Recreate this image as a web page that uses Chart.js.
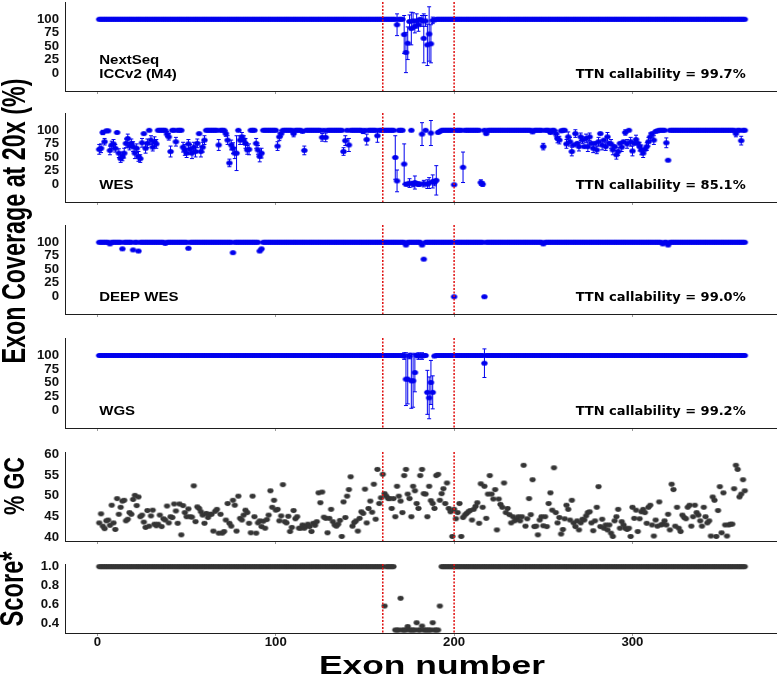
<!DOCTYPE html>
<html>
<head>
<meta charset="utf-8">
<script src="https://cdn.jsdelivr.net/npm/chart.js@4.4.1/dist/chart.umd.min.js"></script>
<style>
  body { margin: 0; background: #fff; }
  #wrap { position: relative; width: 780px; height: 677px; overflow: hidden; }
  canvas { position: absolute; left: 0; }
  .title { position: absolute; white-space: nowrap; line-height: 1; color: #000; font-weight: bold; font-family: 'Liberation Sans', Arial, sans-serif; }
</style>
</head>
<body>
<div id="wrap">
  <canvas id="cNext" width="780" height="111" style="top:-10px"></canvas>
  <canvas id="cWes" width="780" height="111" style="top:101px"></canvas>
  <canvas id="cDeep" width="780" height="111" style="top:213px"></canvas>
  <canvas id="cWgs" width="780" height="112" style="top:326px"></canvas>
  <canvas id="cGc" width="780" height="111" style="top:440px"></canvas>
  <canvas id="cScore" width="780" height="101" style="top:552px"></canvas>
  <div class="title" style="left:14px;top:221px;font-size:23.3px;transform:translate(-50%,-50%) rotate(-90deg) scaleY(1.45)">Exon Coverage at 20x (%)</div>
  <div class="title" style="left:14px;top:486px;font-size:21.7px;transform:translate(-50%,-50%) rotate(-90deg) scaleY(1.38)">% GC</div>
  <div class="title" style="left:13px;top:589px;font-size:23.7px;transform:translate(-50%,-50%) rotate(-90deg) scaleY(1.38)">Score*</div>
  <div class="title" style="left:432px;top:652px;font-size:26px;transform:translateX(-50%) scaleX(1.36)">Exon number</div>
</div>
<script>
// exon-level values (index 0 = exon 1)
const exonTicks = [0, 100, 200, 300];
const coverageTicks = [0, 25, 50, 75, 100];
const gcTicks = [40, 45, 50, 55, 60];
const scoreTicks = [0.4, 0.6, 0.8, 1.0];
const boundaryExons = [160, 200];
const callability = ['99.7%', '85.1%', '99.0%', '99.2%'];

const nextseq = [
  100,100,100,100,100,100,100,100,100,100,100,100,100,100,100,100,100,100,100,100,
  100,100,100,100,100,100,100,100,100,100,100,100,100,100,100,100,100,100,100,100,
  100,100,100,100,100,100,100,100,100,100,100,100,100,100,100,100,100,100,100,100,
  100,100,100,100,100,100,100,100,100,100,100,100,100,100,100,100,100,100,100,100,
  100,100,100,100,100,100,100,100,100,100,100,100,100,100,100,100,100,100,100,100,
  100,100,100,100,100,100,100,100,100,100,100,100,100,100,100,100,100,100,100,100,
  100,100,100,100,100,100,100,100,100,100,100,100,100,100,100,100,100,100,100,100,
  100,100,100,100,100,100,100,100,100,100,100,100,100,100,100,100,100,100,100,100,
  100,100,100,100,100,100,100,90,100,100,100,72,39,56,96,83,97,87,97,90,
  100,97,65,97,53,73,55,98,99,100,100,100,100,100,100,100,100,100,100,100,
  100,100,100,100,100,100,100,100,100,100,100,100,100,100,100,100,100,100,100,100,
  100,100,100,100,100,100,100,100,100,100,100,100,100,100,100,100,100,100,100,100,
  100,100,100,100,100,100,100,100,100,100,100,100,100,100,100,100,100,100,100,100,
  100,100,100,100,100,100,100,100,100,100,100,100,100,100,100,100,100,100,100,100,
  100,100,100,100,100,100,100,100,100,100,100,100,100,100,100,100,100,100,100,100,
  100,100,100,100,100,100,100,100,100,100,100,100,100,100,100,100,100,100,100,100,
  100,100,100,100,100,100,100,100,100,100,100,100,100,100,100,100,100,100,100,100,
  100,100,100,100,100,100,100,100,100,100,100,100,100,100,100,100,100,100,100,100,
  100,100,100
];
const nextseqErrorBars = [[168,20],[172,35],[173,37],[174,30],[175,12],[176,30],[177,15],[178,12],
  [179,13],[180,12],[182,10],[183,45],[184,10],[185,38],[186,50],[187,35],[188,6]];

const wes = [
  65,67,96,79,99,99,63,73,75,67,96,58,48,52,58,76,85,71,76,70,
  58,67,52,48,77,94,67,76,100,82,69,79,75,100,100,100,100,100,93,88,
  61,100,100,79,100,100,100,69,64,58,75,65,58,69,61,76,94,61,69,82,
  100,100,100,100,100,100,100,73,100,100,100,94,82,40,73,67,58,58,100,82,
  88,82,76,64,65,100,100,100,76,64,52,58,100,100,100,100,100,100,100,100,
  71,88,94,100,100,100,100,100,100,94,100,100,100,100,98,63,100,100,100,100,
  100,100,100,100,100,87,100,87,100,100,100,100,100,100,100,100,100,61,81,100,
  73,100,100,100,100,100,100,100,98,100,83,100,100,100,100,100,90,100,100,100,
  100,100,100,100,100,100,50,7,100,100,100,38,1,1,3,100,1,4,2,1,
  1,93,2,100,1,3,95,6,4,8,96,98,100,100,100,100,100,100,100,0,
  100,100,100,100,32,100,100,100,100,100,100,100,100,100,4,1,100,94,100,100,
  100,100,100,100,100,100,100,100,100,100,100,100,100,100,100,100,100,100,100,100,
  100,100,100,97,100,100,100,100,100,70,100,100,100,96,100,100,94,85,82,99,
  100,100,75,88,79,61,73,94,76,70,88,82,70,85,70,88,76,67,76,64,
  79,94,73,82,70,88,76,75,64,70,55,61,76,69,79,96,75,100,79,62,
  76,83,76,70,64,58,65,70,79,88,94,82,98,99,100,100,100,100,77,45,
  100,100,100,100,100,100,100,100,100,100,100,100,100,100,100,100,100,100,100,100,
  100,100,100,100,100,100,100,100,100,100,100,100,100,100,100,100,100,94,100,100,
  81,100,100
];
const wesErrorBars = [[1,9],[2,8],[3,4],[4,6],[7,8],[8,7],[9,8],[10,7],[12,8],[13,7],[14,8],[15,9],
  [16,8],[17,8],[18,7],[19,8],[20,9],[21,10],[22,8],[23,9],[24,7],[25,8],[27,9],[28,8],[30,8],[31,7],
  [32,9],[33,8],[39,5],[40,6],[41,10],[44,8],[48,9],[49,10],[50,8],[51,8],[52,9],[53,10],[54,9],
  [55,10],[56,8],[58,10],[59,9],[60,8],[68,10],[72,5],[73,8],[74,7],[75,9],[76,10],[77,10],[78,32],
  [80,8],[81,8],[82,8],[83,9],[84,8],[85,10],[89,9],[90,8],[91,10],[92,9],[101,8],[102,7],[103,6],
  [110,6],[116,8],[126,7],[128,8],[138,7],[139,9],[141,12],[149,4],[151,10],[157,12],[167,40],
  [168,20],[172,37],[173,3],[175,8],[177,5],[178,12],[180,4],[182,21],[183,6],[185,8],[186,10],
  [187,23],[188,12],[189,6],[190,27],[205,28],[215,5],[216,4],[250,6],[257,6],[258,8],[259,7],
  [263,8],[264,9],[265,8],[266,8],[268,7],[270,8],[271,7],[272,6],[274,8],[275,9],[276,7],[278,8],
  [280,7],[281,8],[283,9],[285,7],[286,8],[288,8],[289,9],[291,8],[292,7],[294,8],[296,5],[297,8],
  [299,8],[300,9],[302,8],[304,8],[305,9],[306,8],[308,7],[309,8],[310,7],[312,8],[319,9],[358,6],[361,8]];

const deepWes = [
  100,100,100,100,100,100,97,100,100,100,100,100,100,88,100,100,100,100,100,86,
  100,100,84,100,100,100,100,100,100,100,100,100,100,100,100,100,100,98,100,100,
  100,100,100,100,100,100,100,100,100,100,89,100,100,100,100,100,100,100,100,100,
  100,100,100,100,100,100,100,100,100,100,100,100,100,100,100,81,100,100,100,100,
  100,100,100,100,100,100,100,100,100,100,84,88,100,100,100,100,100,100,100,100,
  100,100,100,100,100,100,100,100,100,100,100,100,100,100,100,100,100,100,100,100,
  100,100,100,100,100,100,100,100,100,100,100,100,100,100,100,100,100,100,100,100,
  100,100,100,100,100,100,100,100,100,100,100,100,100,100,100,100,100,100,100,100,
  100,100,100,100,100,100,100,100,100,100,100,100,95,100,100,100,100,100,100,100,
  100,95,69,100,100,100,100,100,100,100,100,100,100,100,100,100,100,100,100,0,
  100,100,100,100,100,100,100,100,100,100,100,100,100,100,100,100,0,100,100,100,
  100,100,100,100,100,100,100,100,100,100,100,100,100,100,100,100,100,100,100,100,
  100,100,100,100,100,100,100,100,100,97,100,100,100,100,100,100,100,100,100,100,
  100,100,100,100,100,100,100,100,100,100,100,100,100,100,100,100,100,100,100,100,
  100,100,100,100,100,100,100,100,100,100,100,100,100,100,100,100,100,100,100,100,
  100,100,100,100,100,100,100,100,100,100,100,100,100,100,100,100,97,100,100,95,
  100,100,100,100,100,100,100,100,100,100,100,100,100,100,100,100,100,100,100,100,
  100,100,100,100,100,100,100,100,100,100,100,100,100,100,100,100,100,100,100,100,
  100,100,100
];

const wgs = [
  100,100,100,100,100,100,100,100,100,100,100,100,100,100,100,100,100,100,100,100,
  100,100,100,100,100,100,100,100,100,100,100,100,100,100,100,100,100,100,100,100,
  100,100,100,100,100,100,100,100,100,100,100,100,100,100,100,100,100,100,100,100,
  100,100,100,100,100,100,100,100,100,100,100,100,100,100,100,100,100,100,100,100,
  100,100,100,100,100,100,100,100,100,100,100,100,100,100,100,100,100,100,100,100,
  100,100,100,100,100,100,100,100,100,100,100,100,100,100,100,100,100,100,100,100,
  100,100,100,100,100,100,100,100,100,100,100,100,100,100,100,100,100,100,100,100,
  100,100,100,100,100,100,100,100,100,100,100,100,100,100,100,100,100,100,100,100,
  100,100,100,100,100,100,100,100,100,100,100,99,57,57,99,54,54,69,100,99,
  100,99,100,100,33,23,51,33,99,100,100,100,100,100,100,100,100,100,100,100,
  100,100,100,100,100,100,100,100,100,100,100,100,100,100,100,100,86,100,100,100,
  100,100,100,100,100,100,100,100,100,100,100,100,100,100,100,100,100,100,100,100,
  100,100,100,100,100,100,100,100,100,100,100,100,100,100,100,100,100,100,100,100,
  100,100,100,100,100,100,100,100,100,100,100,100,100,100,100,100,100,100,100,100,
  100,100,100,100,100,100,100,100,100,100,100,100,100,100,100,100,100,100,100,100,
  100,100,100,100,100,100,100,100,100,100,100,100,100,100,100,100,100,100,100,100,
  100,100,100,100,100,100,100,100,100,100,100,100,100,100,100,100,100,100,100,100,
  100,100,100,100,100,100,100,100,100,100,100,100,100,100,100,100,100,100,100,100,
  100,100,100
];
const wgsErrorBars = [[172,6],[173,48],[174,45],[175,5],[176,50],[177,48],[178,35],[180,6],
  [182,6],[185,40],[186,38],[187,40],[188,30],[217,26]];

const gc = [
  43.5,45.7,42.7,42.1,44.0,44.2,42.9,47.8,43.5,41.9,49.4,45.6,47.3,48.8,49.0,44.0,44.4,46.0,45.6,49.2,
  50.2,47.7,49.8,45.0,45.4,43.7,42.4,46.5,42.7,45.2,46.6,43.2,42.8,43.2,45.4,42.6,44.5,44.2,47.6,43.5,
  45.0,44.8,48.1,46.4,43.4,48.1,40.6,47.7,46.0,45.0,46.9,45.0,44.9,52.5,43.8,47.4,47.0,46.2,45.4,43.4,
  45.8,44.8,45.6,45.6,41.5,46.3,46.8,41.0,45.6,41.0,41.4,44.2,48.2,43.4,42.7,49.0,47.8,41.5,50.0,44.6,
  44.2,45.4,46.6,46.0,43.4,41.1,50.0,45.0,41.0,43.5,44.0,42.6,43.9,42.2,44.3,45.4,51.3,47.3,49.0,46.6,
  46.8,44.0,45.2,52.8,43.8,43.5,45.1,41.4,42.4,46.5,44.5,45.0,42.2,42.2,43.0,42.2,42.7,43.2,42.6,41.4,
  43.4,42.9,43.8,50.8,48.4,51.0,44.9,44.6,41.1,44.6,46.8,43.8,43.0,42.7,43.2,44.1,40.2,48.6,44.8,50.0,
  51.6,54.7,42.7,43.6,44.0,41.5,44.6,46.2,45.8,51.7,43.5,47.0,48.8,46.1,52.9,44.4,56.5,48.2,49.6,55.3,
  50.6,50.0,49.4,49.4,47.0,49.4,45.0,52.4,50.0,48.8,46.0,55.0,56.5,50.5,49.4,45.0,52.4,51.3,48.2,47.0,
  55.0,56.5,50.6,50.5,45.0,52.4,48.9,48.2,47.0,55.0,55.3,49.0,50.6,51.8,48.2,53.2,47.0,46.2,40.2,46.8,
  44.5,46.0,48.2,40.2,44.8,45.4,45.8,46.2,46.5,44.2,46.8,47.5,48.4,43.4,53.0,47.3,52.4,44.6,50.5,55.0,
  50.5,49.3,51.6,41.8,49.3,48.0,47.3,53.2,46.0,47.0,45.5,43.5,45.0,44.0,44.4,45.0,44.0,45.0,57.5,42.7,
  44.5,49.4,45.5,54.0,42.6,42.7,40.6,44.2,45.0,42.8,45.0,42.6,48.2,50.8,46.6,56.9,46.0,43.5,44.8,40.8,
  41.9,44.5,47.8,46.8,44.2,49.0,43.5,42.6,44.0,41.8,43.5,44.4,44.2,45.2,46.0,46.2,43.5,41.6,44.0,47.3,
  52.3,42.6,44.4,42.2,43.0,41.8,43.0,41.0,40.2,44.0,45.0,46.8,42.2,43.8,43.0,42.2,41.9,42.2,40.2,47.3,
  44.6,46.6,41.4,44.5,46.2,46.8,46.0,43.4,47.3,47.8,43.0,40.3,44.2,42.7,48.6,43.0,43.2,44.0,43.0,45.6,
  41.8,52.9,51.6,42.7,47.3,42.2,41.4,45.4,44.8,44.5,47.3,47.8,42.7,45.0,47.8,46.0,45.4,44.0,42.7,47.3,
  45.0,43.5,44.0,40.3,49.8,49.0,40.2,46.5,52.3,41.1,50.8,43.0,40.3,43.0,43.2,43.2,51.8,57.5,56.5,49.8,
  50.5,54.0,51.3
];

const score = [
  1,1,1,1,1,1,1,1,1,1,1,1,1,1,1,1,1,1,1,1,
  1,1,1,1,1,1,1,1,1,1,1,1,1,1,1,1,1,1,1,1,
  1,1,1,1,1,1,1,1,1,1,1,1,1,1,1,1,1,1,1,1,
  1,1,1,1,1,1,1,1,1,1,1,1,1,1,1,1,1,1,1,1,
  1,1,1,1,1,1,1,1,1,1,1,1,1,1,1,1,1,1,1,1,
  1,1,1,1,1,1,1,1,1,1,1,1,1,1,1,1,1,1,1,1,
  1,1,1,1,1,1,1,1,1,1,1,1,1,1,1,1,1,1,1,1,
  1,1,1,1,1,1,1,1,1,1,1,1,1,1,1,1,1,1,1,1,
  0.586,1,1,1,1,1,0.333,0.333,0.333,0.667,0.333,0.333,0.333,0.37,0.333,0.333,0.333,0.333,0.41,0.333,
  0.333,0.375,0.333,0.333,0.333,0.333,0.333,0.41,0.333,0.333,0.333,0.586,1,1,1,1,1,1,1,1,
  1,1,1,1,1,1,1,1,1,1,1,1,1,1,1,1,1,1,1,1,
  1,1,1,1,1,1,1,1,1,1,1,1,1,1,1,1,1,1,1,1,
  1,1,1,1,1,1,1,1,1,1,1,1,1,1,1,1,1,1,1,1,
  1,1,1,1,1,1,1,1,1,1,1,1,1,1,1,1,1,1,1,1,
  1,1,1,1,1,1,1,1,1,1,1,1,1,1,1,1,1,1,1,1,
  1,1,1,1,1,1,1,1,1,1,1,1,1,1,1,1,1,1,1,1,
  1,1,1,1,1,1,1,1,1,1,1,1,1,1,1,1,1,1,1,1,
  1,1,1,1,1,1,1,1,1,1,1,1,1,1,1,1,1,1,1,1,
  1,1,1
];

// styling
const BLUE = '#0000ee';
const GREY = '#353535';
const RED = '#e01010';
const tickFont = 'bold 12px "Liberation Sans", Arial, sans-serif';
const TICK_SX = 1.1;
const labelFont = 'bold 12px "Liberation Sans", Arial, sans-serif';
const LABEL_SX = 1.25;
const callFont = 'bold 13px "DejaVu Sans", sans-serif';

function ellipseDot(color, w, h) {
  const c = document.createElement('canvas');
  c.width = Math.ceil(w) + 2;
  c.height = Math.ceil(h) + 2;
  const g = c.getContext('2d');
  g.fillStyle = color;
  g.beginPath();
  g.ellipse(c.width / 2, c.height / 2, w / 2, h / 2, 0, 0, Math.PI * 2);
  g.fill();
  return c;
}
const blueDot = ellipseDot(BLUE, 6.4, 5);
const greyDot = ellipseDot(GREY, 6.2, 4.8);

function stretchedText(ctx, text, x, y, align, font, sx, color) {
  ctx.save();
  ctx.font = font;
  ctx.fillStyle = color || '#111';
  ctx.translate(x, y);
  ctx.scale(sx, 1);
  ctx.textAlign = align;
  ctx.textBaseline = 'middle';
  ctx.fillText(text, 0, 0);
  ctx.restore();
}

const overlay = {
  id: 'overlay',
  beforeDatasetsDraw(chart, args, opts) {
    const bars = opts.errorBars || [];
    const {ctx} = chart;
    const xs = chart.scales.x, ys = chart.scales.y;
    ctx.save();
    ctx.strokeStyle = BLUE;
    ctx.lineWidth = 1;
    bars.forEach(([exon, e]) => {
      const v = opts.values[exon - 1];
      const px = xs.getPixelForValue(exon);
      const y1 = ys.getPixelForValue(v - e), y2 = ys.getPixelForValue(v + e);
      ctx.beginPath();
      ctx.moveTo(px, y1); ctx.lineTo(px, y2);
      ctx.moveTo(px - 2, y1); ctx.lineTo(px + 2, y1);
      ctx.moveTo(px - 2, y2); ctx.lineTo(px + 2, y2);
      ctx.stroke();
    });
    ctx.restore();
  },
  afterDatasetsDraw(chart) {
    const {ctx, chartArea} = chart;
    const xs = chart.scales.x;
    ctx.save();
    ctx.strokeStyle = RED;
    ctx.lineWidth = 1.5;
    ctx.setLineDash([2, 1.5]);
    boundaryExons.forEach(b => {
      const px = xs.getPixelForValue(b);
      ctx.beginPath();
      ctx.moveTo(px, chartArea.top);
      ctx.lineTo(px, chartArea.bottom);
      ctx.stroke();
    });
    ctx.restore();
  },
  afterDraw(chart, args, opts) {
    const {ctx, chartArea} = chart;
    const xs = chart.scales.x, ys = chart.scales.y;
    ys.ticks.forEach(t => {
      stretchedText(ctx, opts.fmt(t.value), chartArea.left - 6, ys.getPixelForValue(t.value), 'right', tickFont, TICK_SX);
    });
    if (opts.xLabels) {
      xs.ticks.forEach(t => {
        stretchedText(ctx, String(t.value), xs.getPixelForValue(t.value), chartArea.bottom + 9.5, 'center', tickFont, TICK_SX);
      });
    }
    if (opts.label) {
      const lines = opts.label;
      const base = ys.getPixelForValue(-2.4);
      lines.forEach((s, i) => {
        stretchedText(ctx, s, xs.getPixelForValue(1), base - (lines.length - 1 - i) * 14.3, 'left', labelFont, LABEL_SX, '#000');
      });
      ctx.save();
      ctx.font = callFont;
      ctx.fillStyle = '#000';
      ctx.textAlign = 'right';
      ctx.textBaseline = 'middle';
      ctx.fillText('TTN callability = ' + opts.callability, xs.getPixelForValue(363.5), base);
      ctx.restore();
    }
  }
};

function panel(id, cfg) {
  return new Chart(document.getElementById(id), {
    type: 'scatter',
    data: {
      datasets: [{
        data: cfg.values.map((v, i) => ({x: i + 1, y: v})),
        pointStyle: cfg.dot,
        pointRadius: 3,
        pointHoverRadius: 3
      }]
    },
    options: {
      responsive: false,
      animation: false,
      events: [],
      layout: {padding: {top: 12, right: 2, left: 0, bottom: 0}},
      plugins: {
        legend: {display: false},
        tooltip: {enabled: false},
        overlay: {
          values: cfg.values,
          errorBars: cfg.errorBars,
          fmt: cfg.fmt,
          xLabels: cfg.xLabels,
          label: cfg.label,
          callability: cfg.callability
        }
      },
      scales: {
        x: {
          type: 'linear',
          min: -18.2,
          max: 380.5,
          afterBuildTicks: s => { s.ticks = exonTicks.map(v => ({value: v})); },
          afterFit: s => { s.height = cfg.bottomH; },
          grid: {display: true, drawOnChartArea: false, drawTicks: true, tickLength: 3, color: '#9a9a9a'},
          border: {display: true, color: '#1e1e1e', width: 1},
          ticks: {display: false}
        },
        y: {
          min: cfg.min,
          max: cfg.max,
          afterBuildTicks: s => { s.ticks = cfg.ticks.map(v => ({value: v})); },
          afterFit: s => { s.width = 65; },
          grid: {display: false},
          border: {display: true, color: '#1e1e1e', width: 1},
          ticks: {display: false}
        }
      }
    },
    plugins: [overlay]
  });
}

const covFmt = v => String(v);
panel('cNext', {values: nextseq, errorBars: nextseqErrorBars, dot: blueDot, min: -31.8, max: 131.8,
  ticks: coverageTicks, fmt: covFmt, bottomH: 10, label: ['NextSeq', 'ICCv2 (M4)'], callability: callability[0]});
panel('cWes', {values: wes, errorBars: wesErrorBars, dot: blueDot, min: -31.8, max: 131.8,
  ticks: coverageTicks, fmt: covFmt, bottomH: 10, label: ['WES'], callability: callability[1]});
panel('cDeep', {values: deepWes, errorBars: [], dot: blueDot, min: -31.8, max: 131.8,
  ticks: coverageTicks, fmt: covFmt, bottomH: 10, label: ['DEEP WES'], callability: callability[2]});
panel('cWgs', {values: wgs, errorBars: wgsErrorBars, dot: blueDot, min: -31.8, max: 131.8,
  ticks: coverageTicks, fmt: covFmt, bottomH: 10, label: ['WGS'], callability: callability[3]});
panel('cGc', {values: gc, errorBars: [], dot: greyDot, min: 39.1, max: 60.73,
  ticks: gcTicks, fmt: covFmt, bottomH: 10});
panel('cScore', {values: score, errorBars: [], dot: greyDot, min: 0.302, max: 1.028,
  ticks: scoreTicks, fmt: v => v.toFixed(1), bottomH: 20, xLabels: true});
</script>
</body>
</html>
